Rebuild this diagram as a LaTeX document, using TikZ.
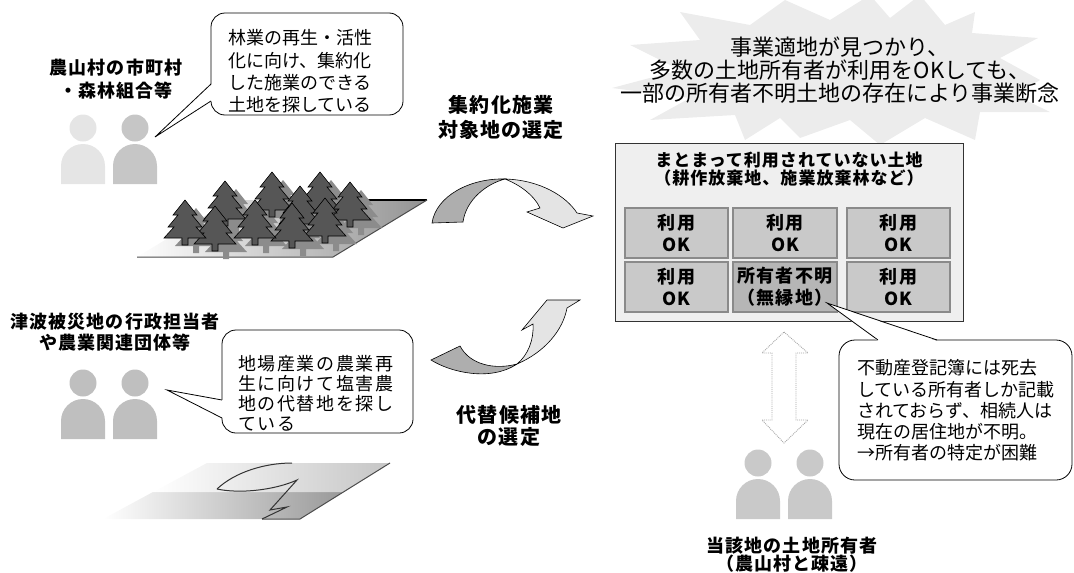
\documentclass[tikz,border=0pt]{standalone}
\usepackage{fontspec}
\setmainfont{Noto Sans CJK JP}
\newfontfamily\lblfont[LetterSpace=6]{Noto Sans CJK JP}
\newfontfamily\widefont[LetterSpace=9]{Noto Sans CJK JP}

\definecolor{burst}{HTML}{ECECEC}
\definecolor{boxfill}{HTML}{EFEFEF}
\definecolor{cellfill}{HTML}{C9C9C9}
\definecolor{cellfilldark}{HTML}{B6B6B6}
\definecolor{cellborder}{HTML}{8A8A8A}
\definecolor{arrdark}{HTML}{AEAEAE}
\definecolor{arrlight}{HTML}{E4E4E4}
\definecolor{treedark}{HTML}{565656}
\definecolor{treelight}{HTML}{8C8C8C}

\tikzset{
  every node/.style={inner sep=0pt, outer sep=0pt},
  boldlbl/.style={font=\lblfont\bfseries\fontsize{18}{23}\selectfont, align=center},
  bigboldlbl/.style={font=\lblfont\bfseries\fontsize{20}{25}\selectfont, align=center},
  bubble/.style={draw=black, line width=0.8pt, fill=white, rounded corners=14pt},
  bubbletext/.style={font=\fontsize{18}{22.3}\selectfont, align=left, anchor=west},
  cell/.style={draw=cellborder, line width=1.8pt, fill=cellfill, align=center,
    font=\lblfont\bfseries\fontsize{18}{22}\selectfont},
  person/.pic={
    \fill[pic actions] (0,0) circle[radius=13.5pt];
    \fill[pic actions] (-22,56) -- (-22,38) arc[start angle=180,end angle=0,radius=22pt] -- (22,56) -- cycle;
  },
  tree/.pic={
    \path[pic actions] (0,0) -- (12,15) -- (7,15) -- (17,27) -- (11,27) -- (21,38) -- (3,38) -- (3,45)
      -- (-3,45) -- (-3,38) -- (-21,38) -- (-11,27) -- (-17,27) -- (-7,15) -- (-12,15) -- cycle;
  },
  shadowtree/.style={fill=treelight},
  fronttree/.style={fill=treedark, draw=black, line width=0.6pt},
  ribbon/.style={draw=black, line width=0.6pt},
}

\begin{document}
\begin{tikzpicture}[x=1pt,y=-1pt]
\useasboundingbox (0,0) rectangle (1074,573);

% ---------- burst behind the headline ----------
\fill[burst] (920,-5) -- (945,25) -- (975,12) -- (972,33) -- (1038,38) -- (1000,58) -- (1040,80)
  -- (1015,95) -- (1050,112) -- (980,112) -- (975,140) -- (925,118) -- (880,145) -- (850,120)
  -- (800,138) -- (780,118) -- (745,140) -- (735,115) -- (650,120) -- (690,98) -- (612,88)
  -- (680,70) -- (630,45) -- (700,40) -- (680,12) -- (750,25) -- (785,0) -- (830,20)
  -- (870,-5) -- (890,18) -- cycle;
\node[font=\fontsize{22}{23}\selectfont, align=center] (head) at (840,70)
  {事業適地が見つかり、\\多数の土地所有者が利用をOKしても、\\一部の所有者不明土地の存在により事業断念};

% ---------- upper left: forest owners ----------
\node[boldlbl] (lblA) at (116,79.5) {農山村の市町村\\・森林組合等};
\pic[fill=gray!20] at (83,128) {person};
\pic[fill=gray!45] at (135,128) {person};

\node[bubble, minimum width=192pt, minimum height=102pt] (bubA) at (307,64) {};
\fill[white] (212,84) -- (155,137) -- (212,101) -- cycle;
\draw[line width=0.8pt] (211,84) -- (155,137) -- (211,101);
\node[bubbletext] (txtA) at (228,71.5) {林業の再生・活性\\化に向け、集約化\\した施業のできる\\土地を探している};

% forest plot
\shade[left color=white, right color=gray!85] (137,257) -- (333,257) -- (427,200) -- (231,200) -- cycle;
\draw[line width=1.6pt] (300,200) -- (427,200);
\draw[gray!60!black, line width=1pt] (427,200) -- (333,257) -- (137,257);
\foreach \tx/\ty in {272/172,320/172,350/182,225/181,300/186,325/198,292/203,255/200,215/206,185/200}
  \pic[shadowtree] at (\tx+11,\ty+8) {tree};
\foreach \tx/\ty in {272/172,320/172,350/182,225/181,300/186,325/198,292/203,255/200,215/206,185/200}
  \pic[fronttree] at (\tx,\ty) {tree};

% ---------- lower left: disaster area ----------
\node[boldlbl, font=\lblfont\bfseries\fontsize{18}{21}\selectfont] (lblB) at (115,332.5)
  {津波被災地の行政担当者\\や農業関連団体等};
\pic[fill=gray!50] at (83,383) {person};
\pic[fill=gray!50] at (135,383) {person};

\node[bubble, minimum width=191pt, minimum height=103pt] (bubB) at (317.5,381.5) {};
\fill[white] (223,400) -- (167,390) -- (223,418) -- cycle;
\draw[line width=0.8pt] (222,400) -- (167,390) -- (222,418);
\node[bubbletext, font=\widefont\fontsize{18}{20}\selectfont] (txtB) at (238,393)
  {地場産業の農業再\\生に向けて塩害農\\地の代替地を探し\\ている};

% damaged field
\shade[left color=white, right color=gray!80] (103,519) -- (300,519) -- (343,492) -- (153,492) -- cycle;
\shade[left color=white, right color=gray!45] (153,492) -- (343,492) -- (390,463) -- (207,463) -- cycle;
\draw[gray!60!black, line width=1pt] (262,519) -- (300,519) -- (390,463);
\draw[gray!40!black, line width=1pt] (217,489) .. controls (235,472) and (265,463) .. (292,463);
\draw[gray!40!black, line width=1pt] (217,489) .. controls (240,494) and (275,490) .. (297,480)
  -- (270,510) -- (287,507) -- (262,519);

% ---------- middle: selection arrows ----------
\node[bigboldlbl] (lblC) at (501,117.5) {集約化施業\\対象地の選定};
\node[bigboldlbl, font=\lblfont\bfseries\fontsize{20}{22}\selectfont] (lblD) at (509,426)
  {代替候補地\\の選定};

\filldraw[ribbon, fill=arrdark] (432,223) .. controls (436,196) and (470,178) .. (505,179)
  .. controls (486,184) and (466,200) .. (463,222) -- cycle;
\filldraw[ribbon, fill=arrlight] (505,179) .. controls (540,180) and (566,196) .. (577,213)
  -- (593,216) -- (563,228) -- (527,212) -- (540,208)
  .. controls (534,195) and (520,185) .. (505,179) -- cycle;

\filldraw[ribbon, fill=arrdark] (431,360) .. controls (450,372) and (490,382) .. (517,364)
  .. controls (495,370) and (470,365) .. (460,346) -- cycle;
\filldraw[ribbon, fill=arrlight] (517,364) .. controls (545,352) and (563,330) .. (567,308)
  -- (580,300) -- (547,300) -- (522,330) -- (533,324)
  .. controls (534,340) and (528,355) .. (517,364) -- cycle;

% ---------- right: the consolidated plot ----------
\node[draw=black!80, line width=0.8pt, fill=boxfill, minimum width=348pt, minimum height=178pt]
  (plot) at (789,232) {};
\node[font=\lblfont\bfseries\fontsize{17}{18.5}\selectfont, align=center] (plotttl) at (789,169)
  {まとまって利用されていない土地\\（耕作放棄地、施業放棄林など）};

\node[cell, minimum width=103pt, minimum height=50pt] (c11) at (676.5,233) {利用\\OK};
\node[cell, minimum width=104pt, minimum height=50pt] (c12) at (785,233) {利用\\OK};
\node[cell, minimum width=103pt, minimum height=50pt] (c13) at (898.5,233) {利用\\OK};
\node[cell, minimum width=103pt, minimum height=50pt] (c21) at (676.5,287) {利用\\OK};
\node[cell, fill=cellfilldark, minimum width=104pt, minimum height=50pt] (c22) at (785,287) {所有者不明\\（無縁地）};
\node[cell, minimum width=103pt, minimum height=50pt] (c23) at (898.5,287) {利用\\OK};

% callout on the unknown-owner parcel
\node[bubble, rounded corners=16pt, minimum width=233pt, minimum height=140pt] (bubC) at (955.5,410) {};
\fill[white] (878,341) -- (827,303) -- (937,341) -- cycle;
\draw[line width=0.8pt] (878,340) -- (827,303) -- (937,340);
\node[bubbletext, font=\fontsize{18}{21.25}\selectfont] (txtC) at (857,410.5)
  {不動産登記簿には死去\\している所有者しか記載\\されておらず、相続人は\\現在の居住地が不明。\\→所有者の特定が困難};

% contact between plot and owners
\draw[gray!70, densely dotted, line width=0.9pt, fill=white]
  (784,332) -- (808,353) -- (796,353) -- (796,420) -- (808,420) -- (784,443)
  -- (762,420) -- (772,420) -- (772,353) -- (762,353) -- cycle;

\pic[fill=gray!42] at (758,463) {person};
\pic[fill=gray!42] at (810,463) {person};
\node[boldlbl, font=\lblfont\bfseries\fontsize{18}{18}\selectfont] (lblE) at (792,554.5)
  {当該地の土地所有者\\（農山村と疎遠）};

\end{tikzpicture}
\end{document}
